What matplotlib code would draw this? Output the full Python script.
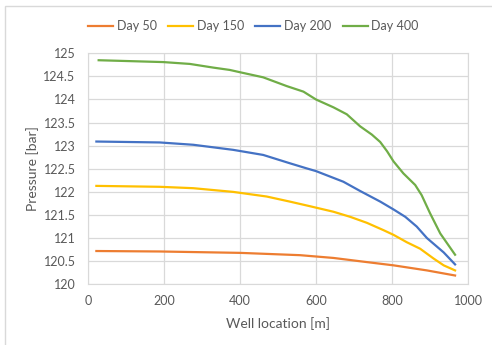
import matplotlib
matplotlib.use("Agg")
import matplotlib.pyplot as plt
from matplotlib.patches import Rectangle

# Data
x_day50 = [22, 189, 400, 558, 646, 734, 804, 892, 966]
p_day50 = [120.72, 120.71, 120.68, 120.63, 120.57, 120.48, 120.41, 120.30, 120.19]

x_day150 = [22, 189, 277, 382, 470, 531, 584, 646, 690, 734, 778, 804, 839, 874, 909, 936, 966]
p_day150 = [122.13, 122.11, 122.08, 122.00, 121.90, 121.79, 121.69, 121.57, 121.46,
            121.33, 121.17, 121.07, 120.91, 120.77, 120.56, 120.41, 120.30]

x_day200 = [22, 189, 277, 382, 461, 531, 575, 600, 672, 716, 769, 804, 835, 865, 892, 936, 966]
p_day200 = [123.09, 123.07, 123.02, 122.91, 122.80, 122.62, 122.51, 122.45, 122.22,
            122.02, 121.79, 121.62, 121.46, 121.25, 121.00, 120.69, 120.43]

x_day400 = [28, 198, 268, 330, 373, 400, 461, 523, 567, 600, 646, 681, 716, 747, 769,
            787, 804, 830, 861, 878, 900, 927, 966]
p_day400 = [124.85, 124.81, 124.77, 124.69, 124.64, 124.59, 124.48, 124.29, 124.17, 124.00,
            123.83, 123.68, 123.42, 123.24, 123.08, 122.88, 122.66, 122.40, 122.15, 121.93,
            121.54, 121.10, 120.64]

series = [
    ("Day 50", x_day50, p_day50, "#ED7D31"),
    ("Day 150", x_day150, p_day150, "#FFC000"),
    ("Day 200", x_day200, p_day200, "#4472C4"),
    ("Day 400", x_day400, p_day400, "#70AD47"),
]

text_col = "#595959"
plt.rcParams["font.family"] = ["Lato", "DejaVu Sans"]

fig = plt.figure(figsize=(4.92, 3.45), dpi=100)
ax = fig.add_axes([0.1789, 0.176, 0.7723, 0.6695])

# outer chart border (only top/left visible in the crop)
fig.patches.append(Rectangle((5 / 492, -0.1), 1.2, 1 - 6 / 345 + 0.1,
                             transform=fig.transFigure, fill=False,
                             edgecolor="#D9D9D9", linewidth=1.0))

for name, xs, ps, col in series:
    ax.plot(xs, ps, color=col, linewidth=1.6, label=name)

ax.set_xlim(0, 1000)
ax.set_ylim(120, 125)
ax.set_xticks([0, 200, 400, 600, 800, 1000])
ax.set_yticks([120, 120.5, 121, 121.5, 122, 122.5, 123, 123.5, 124, 124.5, 125])
ax.set_yticklabels(["120", "120.5", "121", "121.5", "122", "122.5", "123",
                    "123.5", "124", "124.5", "125"])
ax.grid(True, color="#D9D9D9", linewidth=0.9)
ax.set_axisbelow(True)
for s in ax.spines.values():
    s.set_color("#D9D9D9")
ax.tick_params(length=0, labelsize=9, colors=text_col)
ax.tick_params(axis="y", pad=9)
ax.tick_params(axis="x", pad=8)

ax.set_xlabel("Well location [m]", fontsize=10, color=text_col, labelpad=7)
ax.set_ylabel("Pressure [bar]", fontsize=10, color=text_col, labelpad=3)

fig.legend(loc="center", bbox_to_anchor=(0.515, 1 - 26 / 345), ncol=4, frameon=False,
           fontsize=9, labelcolor=text_col, handlelength=2.0, columnspacing=0.9,
           handletextpad=0.3)

fig.savefig("out.png", dpi=100)
